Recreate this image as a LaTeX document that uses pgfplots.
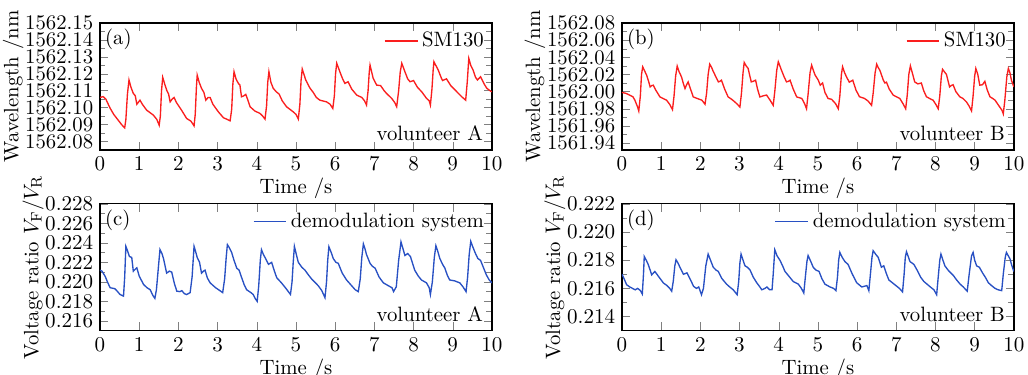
\documentclass[border=0pt]{standalone}
\usepackage{pgfplots}
\pgfplotsset{compat=1.18}
\usepgfplotslibrary{groupplots}
\definecolor{myred}{RGB}{250,30,30}
\definecolor{myblue}{RGB}{40,80,195}
\begin{document}
\begin{tikzpicture}[font=\fontsize{10.8}{13}\selectfont]
\begin{groupplot}[
  group style={group size=2 by 2, horizontal sep=67.6pt, vertical sep=28pt},
  width=203.8pt, height=66pt, scale only axis,
  xmin=0, xmax=10, xtick={0,1,...,10},
  xlabel={Time /s},
  xlabel style={yshift=3pt},
  minor y tick num=1,
  tick align=inside,
  axis line style={line width=0.7pt},
  legend style={draw=none, fill=none, at={(0.995,0.975)}, anchor=north east, inner sep=1pt},
  ylabel style={yshift=-6pt},
]
% (a)
\nextgroupplot[ymin=75, ymax=150, ytick={80,90,100,110,120,130,140,150},
  yticklabels={1562.08,1562.09,1562.10,1562.11,1562.12,1562.13,1562.14,1562.15},
  ylabel={Wavelength /nm}]
\addplot[myred, line width=0.7pt] table {
0 106
0.08 106.5
0.15 105
0.25 100
0.35 96
0.45 93
0.55 90
0.63 88
0.66 93
0.70 108
0.74 116.3
0.79 112
0.85 108.4
0.90 107
0.94 102
1.02 104.4
1.08 102
1.19 98.5
1.36 95.6
1.45 93
1.51 89.6
1.54 95
1.57 110
1.60 117.9
1.65 114
1.70 110.4
1.75 108
1.79 103.4
1.84 105
1.89 106
1.95 103
2.08 98.5
2.21 93.6
2.32 92
2.40 89.2
2.43 96
2.46 112
2.48 119.2
2.53 115
2.59 111.4
2.65 109
2.70 104.4
2.76 106
2.81 106
2.88 102
3.02 97.5
3.15 94
3.25 93
3.32 92.2
3.36 99
3.39 114
3.42 121.2
3.47 117
3.53 114.3
3.57 113.3
3.61 106.4
3.67 107
3.72 107.8
3.78 104
3.83 100.5
3.95 98
4.08 96.6
4.15 95
4.21 93.2
4.25 101
4.28 115
4.31 121.2
4.36 115
4.42 111.4
4.50 109.3
4.57 108
4.65 104
4.76 100.5
4.93 97.5
5.00 96
5.06 93.2
5.10 102
5.13 116
5.16 122.8
5.25 116.3
5.30 114
5.36 111.4
5.44 109
5.52 106
5.61 104.4
5.78 103.4
5.87 102
5.94 99.5
5.98 107
6.01 120
6.04 126.2
6.12 121.2
6.19 117
6.25 114.3
6.33 115.3
6.42 111
6.55 107.4
6.68 106
6.75 104
6.80 101.5
6.84 110
6.87 121
6.89 125.1
6.97 117.3
7.06 113.3
7.16 113
7.25 110
7.31 108.4
7.44 105.5
7.52 103
7.57 100.5
7.62 110
7.66 121
7.70 126.2
7.78 121.2
7.85 117
7.91 115.3
8.00 116
8.10 112
8.21 109.3
8.33 105.5
8.40 104
8.43 101.5
8.47 111
8.50 122
8.52 127.1
8.63 122.2
8.70 118
8.74 116
8.84 117
8.95 113
9.06 110.4
9.23 106.4
9.30 105
9.33 104.4
9.37 115
9.41 129.1
9.46 125
9.52 122.2
9.58 118
9.63 116.3
9.71 118.2
9.80 114
9.87 111.4
9.95 110
10.00 109.3
};
\addlegendentry{SM130}
\node[anchor=north west, inner sep=0pt] at (rel axis cs:0.012,0.955) {(a)};
\node[anchor=south east, inner sep=0pt] at (rel axis cs:0.978,0.07) {volunteer A};
% (b)
\nextgroupplot[ymin=-68, ymax=80, ytick={-60,-40,-20,0,20,40,60,80},
  yticklabels={1561.94,1561.96,1561.98,1562.00,1562.02,1562.04,1562.06,1562.08},
  ylabel={Wavelength /nm}]
\addplot[myred, line width=0.7pt] table {
0 -1
0.1 -2
0.2 -4.2
0.28 -6
0.33 -10
0.40 -18
0.43 -22.6
0.47 -5
0.50 20
0.53 28.9
0.58 24
0.63 19.2
0.68 12
0.72 5.5
0.76 7
0.80 7.5
0.86 2
0.97 -6.2
1.05 -8
1.14 -10
1.22 -15
1.29 -21
1.33 -5
1.37 18
1.41 29.7
1.46 23
1.52 17.2
1.57 9
1.61 3.6
1.65 8
1.69 11.3
1.75 3
1.82 -6.2
1.92 -8
2.04 -10
2.12 -14.7
2.16 -2
2.20 20
2.24 32
2.29 28
2.33 23.5
2.40 17
2.46 11.3
2.50 12
2.54 13.3
2.62 3
2.71 -6.2
2.80 -9
2.88 -12
2.95 -15
3.01 -18
3.05 -2
3.09 22
3.12 34
3.17 30
3.22 27
3.26 19
3.30 11.3
3.35 12
3.41 13.3
3.46 3
3.52 -6.2
3.60 -5
3.69 -4
3.78 -10
3.86 -16
3.90 0
3.95 25
3.99 34.8
4.03 30
4.07 25
4.14 17
4.20 11.3
4.25 12
4.29 13.3
4.37 3
4.46 -6.2
4.59 -8
4.66 -14
4.71 -20
4.75 -3
4.80 22
4.84 30.9
4.89 24
4.93 19.2
5.01 13.3
5.06 7.5
5.12 10
5.18 -1
5.26 -8
5.35 -9
5.45 -14
5.52 -20
5.56 -5
5.60 20
5.63 28.9
5.68 22
5.73 17.2
5.80 11
5.89 13.3
5.97 2
6.06 -6
6.19 -8
6.28 -11
6.37 -16
6.41 -2
6.46 22
6.50 32
6.54 28
6.58 25
6.67 13.3
6.71 10
6.75 11
6.82 3
6.92 -4
7.00 -6
7.09 -8
7.17 -14
7.24 -20
7.28 -4
7.32 20
7.36 30
7.42 20
7.47 11.3
7.55 9
7.64 10
7.70 1
7.77 -6
7.85 -8
7.94 -10
8.01 -15
8.07 -20
8.11 -5
8.15 18
8.18 26
8.23 23
8.28 20
8.36 5.5
8.40 7
8.45 8
8.52 0
8.62 -6
8.70 -8
8.79 -12
8.86 -17
8.92 -22.6
8.96 -5
9.00 18
9.03 27
9.08 20
9.13 7.5
9.20 8
9.26 12
9.32 2
9.39 -6
9.46 -8
9.52 -10
9.58 -14
9.64 -18
9.70 -22
9.73 -26
9.77 -10
9.82 17
9.86 27
9.90 22
9.94 13
10.00 5.5
};
\addlegendentry{SM130}
\node[anchor=north west, inner sep=0pt] at (rel axis cs:0.012,0.955) {(b)};
\node[anchor=south east, inner sep=0pt] at (rel axis cs:0.978,0.07) {volunteer B};
% (c)
\nextgroupplot[ymin=0.215, ymax=0.228, ytick={0.216,0.218,0.220,0.222,0.224,0.226,0.228},
  yticklabel style={/pgf/number format/.cd, fixed, fixed zerofill, precision=3},
  ylabel={Voltage ratio $V_{\mathrm{F}}/V_{\mathrm{R}}$}]
\addplot[myblue, line width=0.7pt] table {
0 0.2212
0.05 0.2211
0.13 0.22058
0.20 0.2199
0.26 0.2194
0.38 0.2193
0.45 0.2190
0.51 0.21871
0.60 0.21854
0.63 0.2205
0.66 0.22364
0.71 0.2231
0.75 0.2226
0.81 0.2225
0.85 0.22109
0.90 0.2213
0.94 0.22144
1.00 0.2206
1.11 0.21974
1.20 0.2194
1.28 0.2192
1.35 0.2186
1.40 0.21831
1.44 0.2192
1.49 0.2215
1.53 0.2233
1.58 0.2229
1.62 0.2224
1.70 0.2209
1.77 0.2211
1.83 0.2210
1.90 0.2198
1.96 0.21905
2.04 0.2190
2.09 0.2191
2.15 0.2188
2.21 0.2187
2.30 0.2189
2.35 0.2205
2.40 0.22364
2.44 0.2231
2.48 0.2225
2.54 0.2220
2.59 0.2209
2.64 0.2211
2.68 0.2212
2.74 0.2204
2.81 0.2199
2.95 0.2194
3.06 0.2191
3.13 0.2189
3.18 0.2203
3.22 0.2225
3.25 0.22382
3.30 0.2235
3.36 0.2230
3.42 0.2222
3.49 0.2214
3.55 0.2212
3.60 0.2206
3.68 0.2197
3.74 0.2192
3.85 0.2189
3.91 0.2187
3.96 0.2183
4.01 0.2180
4.05 0.2196
4.09 0.2222
4.12 0.2233
4.17 0.2228
4.21 0.2225
4.30 0.2218
4.38 0.2220
4.45 0.2211
4.51 0.22042
4.63 0.2199
4.75 0.2193
4.86 0.21871
4.90 0.2200
4.93 0.2220
4.96 0.22364
5.01 0.2228
5.06 0.2220
5.15 0.2215
5.23 0.2212
5.32 0.2207
5.40 0.2203
5.57 0.2196
5.66 0.2191
5.74 0.21838
5.78 0.2200
5.81 0.2222
5.84 0.2236
5.90 0.2230
5.95 0.2224
6.02 0.2220
6.08 0.2219
6.18 0.2209
6.29 0.2202
6.40 0.2197
6.51 0.2192
6.59 0.2190
6.64 0.2203
6.68 0.2225
6.72 0.22389
6.76 0.2234
6.80 0.2228
6.89 0.2219
6.95 0.2216
7.02 0.2214
7.12 0.2205
7.23 0.2199
7.36 0.2196
7.45 0.2194
7.49 0.2190
7.56 0.2195
7.62 0.2222
7.68 0.2241
7.73 0.2234
7.78 0.2227
7.85 0.2229
7.92 0.2226
8.03 0.2212
8.12 0.2206
8.20 0.2202
8.33 0.2199
8.40 0.2194
8.43 0.2187
8.48 0.2200
8.53 0.2225
8.57 0.2237
8.62 0.2231
8.67 0.2224
8.74 0.2218
8.80 0.2214
8.86 0.2207
8.92 0.2202
9.05 0.2201
9.18 0.2199
9.26 0.2195
9.34 0.2190
9.38 0.2205
9.42 0.2228
9.46 0.22415
9.51 0.2236
9.57 0.2230
9.64 0.2224
9.71 0.2222
9.78 0.2215
9.86 0.2207
9.93 0.2202
10.00 0.2199
};
\addlegendentry{demodulation system}
\node[anchor=north west, inner sep=0pt] at (rel axis cs:0.012,0.955) {(c)};
\node[anchor=south east, inner sep=0pt] at (rel axis cs:0.978,0.07) {volunteer A};
% (d)
\nextgroupplot[ymin=0.213, ymax=0.222, ytick={0.214,0.216,0.218,0.220,0.222},
  yticklabel style={/pgf/number format/.cd, fixed, fixed zerofill, precision=3},
  ylabel={Voltage ratio $V_{\mathrm{F}}/V_{\mathrm{R}}$}]
\addplot[myblue, line width=0.7pt] table {
0 0.2170
0.03 0.21684
0.12 0.21626
0.20 0.2161
0.34 0.2159
0.40 0.2160
0.47 0.21585
0.52 0.2156
0.55 0.2170
0.57 0.21826
0.62 0.2180
0.67 0.2177
0.72 0.2173
0.76 0.21696
0.84 0.2172
0.92 0.2169
1.00 0.2166
1.06 0.21638
1.15 0.2162
1.22 0.2160
1.27 0.2158
1.31 0.2165
1.35 0.2176
1.38 0.21803
1.43 0.2178
1.48 0.2175
1.57 0.2170
1.66 0.2171
1.75 0.2166
1.83 0.21614
1.90 0.2160
1.96 0.2161
2.03 0.21555
2.08 0.2160
2.14 0.2176
2.20 0.21843
2.26 0.2180
2.33 0.2175
2.40 0.2173
2.46 0.2172
2.55 0.2167
2.67 0.2163
2.75 0.2161
2.84 0.2159
2.94 0.21555
2.98 0.2165
3.01 0.2178
3.04 0.21843
3.09 0.2180
3.14 0.2176
3.20 0.2175
3.27 0.2173
3.35 0.2168
3.44 0.2164
3.52 0.2161
3.57 0.2159
3.65 0.2160
3.70 0.2161
3.77 0.2159
3.83 0.2159
3.86 0.2170
3.90 0.21874
3.96 0.2183
4.03 0.2180
4.10 0.2176
4.16 0.2172
4.25 0.2169
4.37 0.21649
4.50 0.2163
4.58 0.2160
4.64 0.21567
4.68 0.2168
4.72 0.2179
4.75 0.21833
4.82 0.2179
4.88 0.2175
4.95 0.2173
5.03 0.2172
5.10 0.2167
5.18 0.2163
5.31 0.2161
5.40 0.2160
5.46 0.21584
5.50 0.2168
5.53 0.2180
5.56 0.21855
5.62 0.2182
5.69 0.2179
5.77 0.2177
5.88 0.2170
5.99 0.2164
6.12 0.2161
6.25 0.2162
6.30 0.21584
6.34 0.2170
6.38 0.2182
6.41 0.21867
6.48 0.2184
6.54 0.2182
6.62 0.2175
6.68 0.2176
6.74 0.2171
6.81 0.2166
6.90 0.2164
6.99 0.2162
7.08 0.2160
7.16 0.21575
7.20 0.2170
7.23 0.2182
7.26 0.2186
7.30 0.2183
7.35 0.2179
7.45 0.2177
7.55 0.2172
7.62 0.2168
7.70 0.2165
7.87 0.2161
7.96 0.2159
8.03 0.21555
8.07 0.2168
8.11 0.2180
8.14 0.21843
8.19 0.2180
8.24 0.2176
8.32 0.2173
8.39 0.2171
8.46 0.2169
8.54 0.2166
8.63 0.2163
8.71 0.2161
8.81 0.2158
8.86 0.2170
8.92 0.2183
8.96 0.21855
9.00 0.2180
9.05 0.2176
9.12 0.2175
9.20 0.2171
9.27 0.2168
9.35 0.2164
9.43 0.2162
9.52 0.2160
9.60 0.2159
9.69 0.21584
9.73 0.2170
9.78 0.2182
9.81 0.21855
9.86 0.2183
9.90 0.2181
9.95 0.2176
10.00 0.2172
};
\addlegendentry{demodulation system}
\node[anchor=north west, inner sep=0pt] at (rel axis cs:0.012,0.955) {(d)};
\node[anchor=south east, inner sep=0pt] at (rel axis cs:0.978,0.07) {volunteer B};
\end{groupplot}
\pgfresetboundingbox
\path[use as bounding box] ([shift={(-52pt,11.96pt)}]group c1r1.north west) rectangle ([shift={(482.56pt,-183.04pt)}]group c1r1.north west);
\end{tikzpicture}
\end{document}
